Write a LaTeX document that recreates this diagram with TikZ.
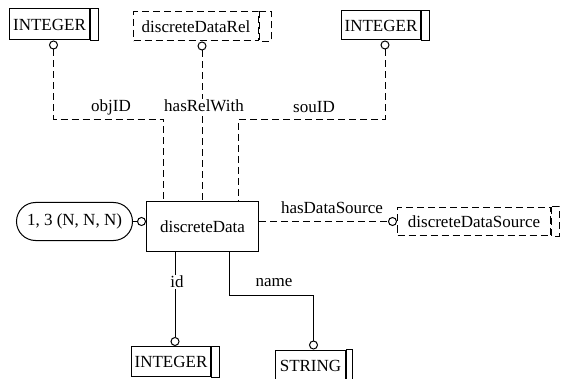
\documentclass[tikz,border=0pt]{standalone}
\usepackage{fontspec}
\setmainfont{Liberation Serif}
\newfontfamily\tnr{Liberation Serif}
\begin{document}
\begin{tikzpicture}[x=1pt,y=-1pt, font=\tnr\fontsize{17}{19}\selectfont, line width=1pt,
  ent/.style={draw, rectangle, inner sep=0pt, anchor=center},
  dsh/.style={dash pattern=on 7pt off 4pt},
  lbl/.style={fill=white, inner sep=1pt},
  circ/.style={circle, draw, fill=white, inner sep=0pt, minimum size=8pt}]
\useasboundingbox (0,0) rectangle (564,379);
% entities
\node[ent, minimum width=80pt, minimum height=31pt] (i1) at (49.5,24.5) {INTEGER};
\draw (i1.north east) rectangle ([xshift=8pt]i1.south east);
\node[ent, dsh, minimum width=125pt, minimum height=29pt] (rel) at (196,26.5) {discreteDataRel};
\draw[dsh] (rel.north east) rectangle ([xshift=12pt]rel.south east);
\node[ent, minimum width=79pt, minimum height=29pt] (i2) at (381,25.5) {INTEGER};
\draw (i2.north east) rectangle ([xshift=8pt]i2.south east);
\node[ent, minimum width=112pt, minimum height=50pt] (dd) at (202.5,226.5) {discreteData};
\node[draw, rounded corners=19pt, inner sep=0pt, minimum width=116pt, minimum height=38pt] (agg) at (74.5,221.5) {1, 3 (N, N, N)};
\node[ent, dsh, minimum width=153pt, minimum height=28pt] (src) at (474,221.5) {discreteDataSource};
\draw[dsh] (src.north east) rectangle ([xshift=8pt]src.south east);
\node[ent, minimum width=79pt, minimum height=30pt] (i3) at (171,361.5) {INTEGER};
\draw (i3.north east) rectangle ([xshift=8pt]i3.south east);
\node[ent, minimum width=70pt, minimum height=31pt] (str) at (310.5,365.5) {STRING};
\draw (str.north east) rectangle ([xshift=6pt]str.south east);
% circles
\node[circ, anchor=north] (o1) at ([xshift=4pt]i1.south) {};
\node[circ, anchor=north] (o2) at ([xshift=6pt]rel.south) {};
\node[circ, anchor=north] (o3) at ([xshift=4pt]i2.south) {};
\node[circ, anchor=east] (o4) at (dd.west |- agg.east) {};
\node[circ, anchor=east] (o5) at (src.west) {};
\node[circ, anchor=south] (o6) at ([xshift=4pt]i3.north) {};
\node[circ, anchor=south] (o7) at ([xshift=3pt]str.north) {};
% connectors
\coordinate (j1) at (163.5,119.5);
\coordinate (j2) at (238.5,119.5);
\draw[dsh] (o1.south) |- (j1) -- (j1 |- dd.north);
\draw[dsh] (o2.south) -- (o2.south |- dd.north);
\draw[dsh] (o3.south) |- (j2) -- (j2 |- dd.north);
\draw (agg.east) -- (o4.west);
\draw[dsh] (dd.east |- o5.west) -- (o5.west);
\draw (o6.north |- dd.south) -- (o6.north);
\coordinate (b2) at (229.5,251.5);
\coordinate (b3) at (229.5,295.5);
\draw (b2) -- (b3) -| (o7.north);
% labels
\node at (111,107) {objID};
\node[lbl] at (204,106) {hasRelWith};
\node at (314,107) {souID};
\node at (332,208) {hasDataSource};
\node[lbl] at (177,282) {id};
\node at (274,283) {name};
\end{tikzpicture}
\end{document}
